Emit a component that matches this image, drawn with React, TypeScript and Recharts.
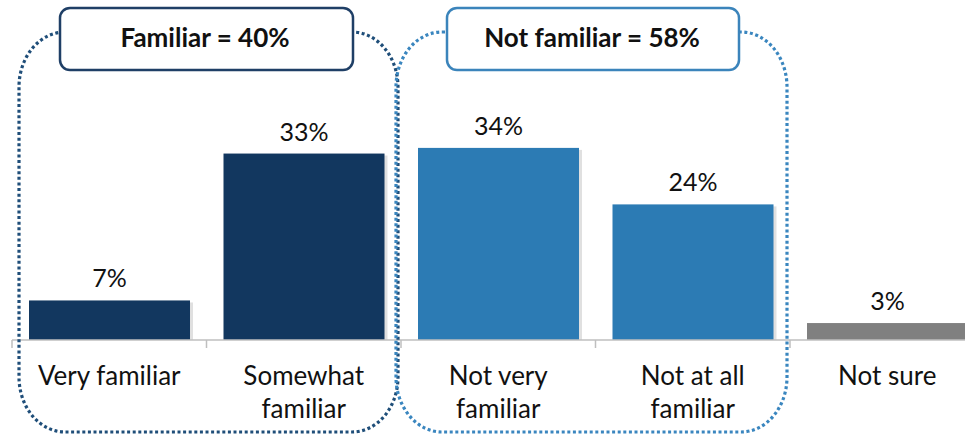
import React from "react";
import { BarChart, Bar, XAxis, YAxis, LabelList, Cell } from "recharts";

// survey answers, left to right
const categories = ["Very familiar", "Somewhat\nfamiliar", "Not very\nfamiliar", "Not at all\nfamiliar", "Not sure"];
const values = [7, 33, 34, 24, 3];
const barColors = ["#12375f", "#12375f", "#2c7bb4", "#2c7bb4", "#808080"];

// group headers
const groupLabels = ["Familiar = 40%", "Not familiar = 58%"];
const groupColors = ["#1f4e79", "#3a86bf"];
const headerBorders = ["#1f3f66", "#3b84bb"];

const data = categories.map((name, i) => ({ name, value: values[i] }));

const FONT = "Lato, 'Open Sans', Arial, sans-serif";
const BAND = 194.5;

const CatTick = (props: any) => {
  const { x, y, payload, index } = props;
  const lines = String(payload.value).split("\n");
  return (
    <g>
      <line x1={x - BAND / 2} x2={x - BAND / 2} y1={y} y2={y + 8} stroke="#bfbfbf" strokeWidth={1.5} />
      {index === categories.length - 1 && (
        <line x1={x + BAND / 2} x2={x + BAND / 2} y1={y} y2={y + 8} stroke="#bfbfbf" strokeWidth={1.5} />
      )}
      {lines.map((l, i) => (
        <text key={i} x={x} y={y + 45 + i * 33} textAnchor="middle" fontSize={26} fill="#111" fontFamily={FONT}>
          {l}
        </text>
      ))}
    </g>
  );
};

const ShadowBar = (props: any) => {
  const { x, y, width, height, fill } = props;
  return (
    <g>
      <rect x={x + 3} y={y + 2} width={width} height={Math.max(height - 2, 0)} fill="#000" opacity={0.12} />
      <rect x={x} y={y} width={width} height={height} fill={fill} />
    </g>
  );
};

export default function App() {
  return (
    <div style={{ position: "absolute", left: 0, top: 0, width: 965, height: 434, overflow: "hidden", background: "#fff" }}>
      <BarChart width={1000} height={434} data={data} margin={{ top: 114, right: 15.5, left: 12, bottom: 34 }}>
        <YAxis hide domain={[0, 40]} />
        <XAxis
          dataKey="name"
          height={60}
          interval={0}
          tickLine={false}
          tickSize={0}
          tickMargin={0}
          axisLine={{ stroke: "#bfbfbf", strokeWidth: 1.5 }}
          tick={<CatTick />}
        />
        <Bar dataKey="value" barSize={161} isAnimationActive={false} shape={<ShadowBar />}>
          {data.map((d, i) => (
            <Cell key={d.name} fill={barColors[i]} />
          ))}
          <LabelList
            dataKey="value"
            position="top"
            offset={13}
            formatter={(v: any) => `${v}%`}
            style={{ fontSize: 25, fill: "#111", fontFamily: FONT }}
          />
        </Bar>
      </BarChart>

      {/* group annotations */}
      <svg width={965} height={434} style={{ position: "absolute", left: 0, top: 0, pointerEvents: "none" }}>
        <rect x={19} y={32} width={379} height={400} rx={46} ry={55} fill="none" stroke={groupColors[0]} strokeWidth={3.2} strokeDasharray="3 2.6" />
        <rect x={396} y={32} width={391} height={400} rx={46} ry={55} fill="none" stroke={groupColors[1]} strokeWidth={3.2} strokeDasharray="3 2.6" />

        <rect x={60} y={8} width={293} height={62} rx={10} fill="#fff" stroke={headerBorders[0]} strokeWidth={2.5} />
        <text x={205} y={47} textAnchor="middle" fontSize={26} fontWeight="bold" fill="#111" fontFamily={FONT}>
          {groupLabels[0]}
        </text>

        <rect x={447} y={8} width={292} height={62} rx={10} fill="#fff" stroke={headerBorders[1]} strokeWidth={2.5} />
        <text x={592} y={47} textAnchor="middle" fontSize={26} fontWeight="bold" fill="#111" fontFamily={FONT}>
          {groupLabels[1]}
        </text>
      </svg>
    </div>
  );
}
